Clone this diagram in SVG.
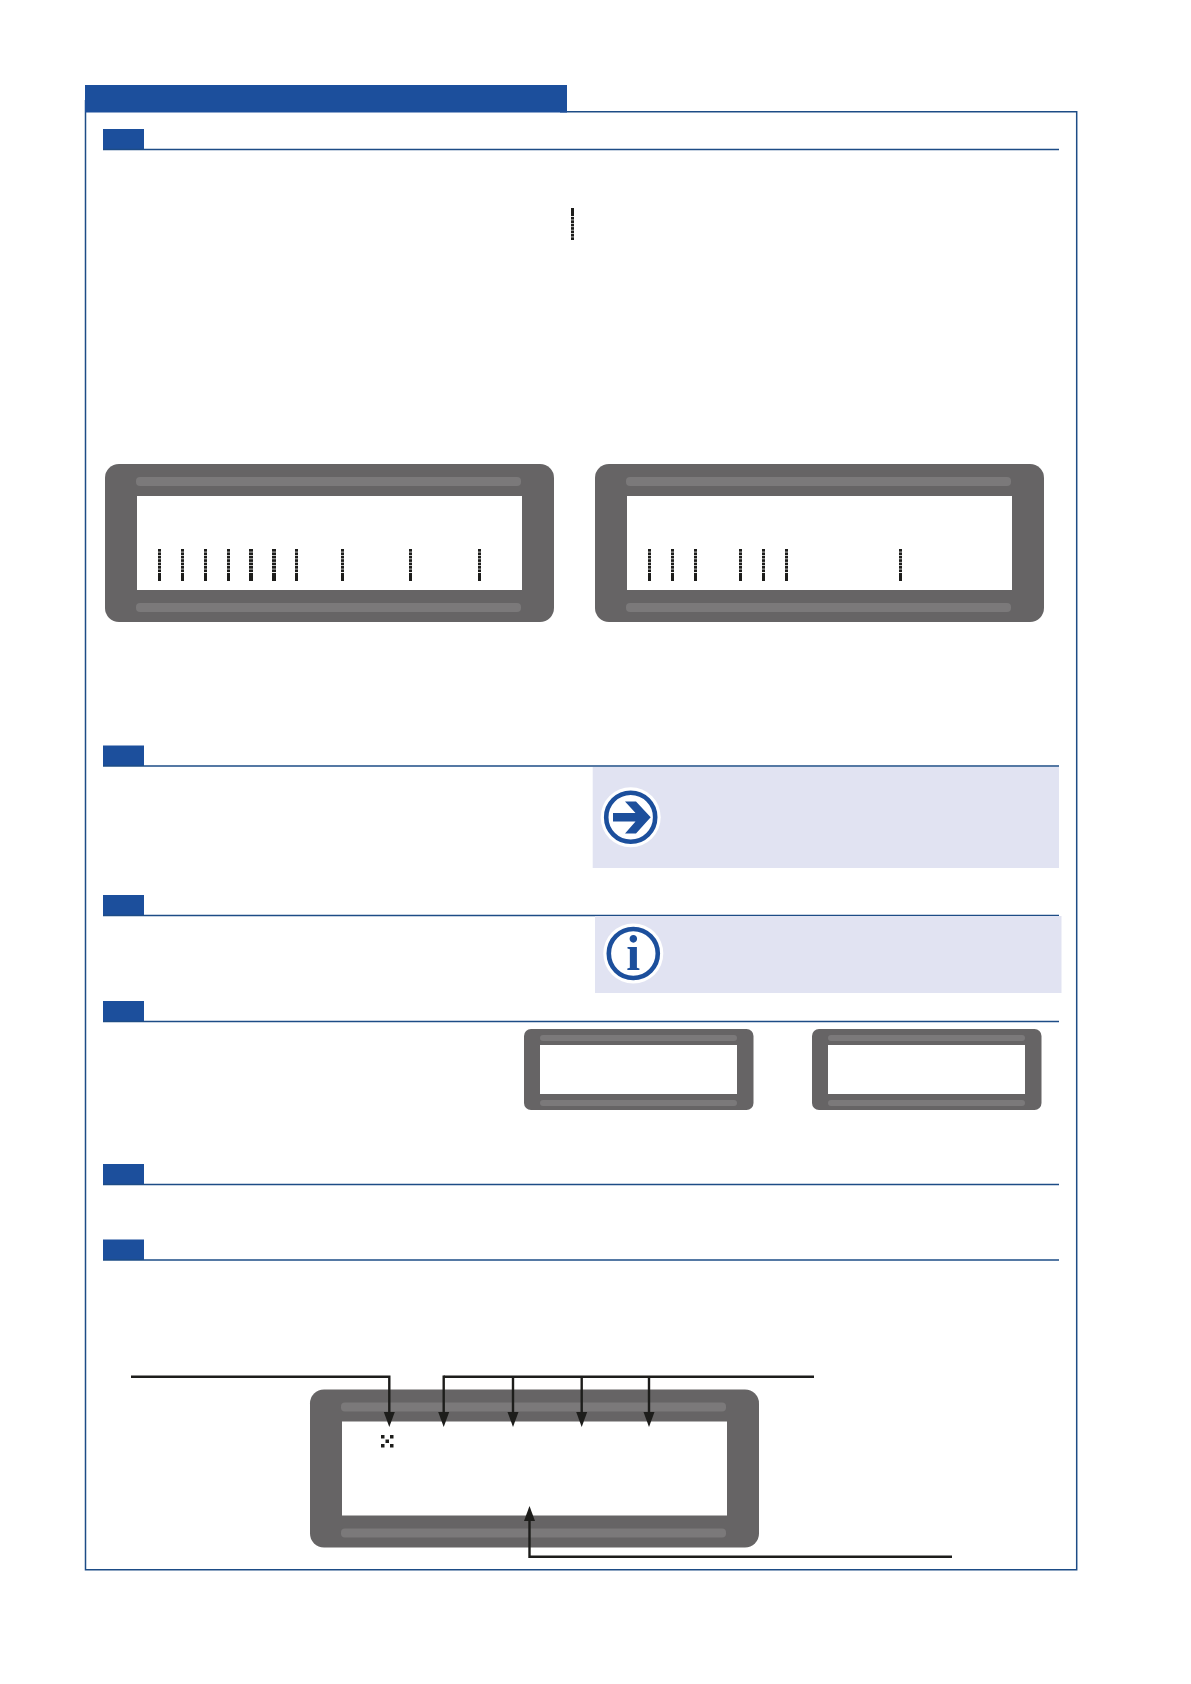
<svg xmlns="http://www.w3.org/2000/svg" width="1191" height="1684" viewBox="0 0 1191 1684">
<style>
.bg{fill:#fff}
.blue{fill:#1c4f9c}
.rule{stroke:#1d4c86;stroke-width:1.5;fill:none}
.case{fill:#666465}
.strip{fill:#7b797a}
.screen{fill:#fff}
.note{fill:#e1e3f2}
.halo{fill:#fff}
.ring{fill:none;stroke:#1c4f9c;stroke-width:4.6}
.ink{fill:#1d1d1b}
.lead{fill:none;stroke:#1d1d1b;stroke-width:2.4;marker-end:url(#tip)}
.plain{fill:none;stroke:#1d1d1b;stroke-width:2.4}
</style>
<defs>
<marker id="tip" markerUnits="userSpaceOnUse" markerWidth="15" markerHeight="12" refX="9" refY="6" orient="auto"><path d="M0 0.500L15 6L0 11.500Z" fill="#1d1d1b"/></marker>
<g id="bar" class="ink">
<rect x="-1.500" y="0" width="3" height="2.700"/><rect x="-1.500" y="3.400" width="3" height="2.700"/><rect x="-1.500" y="6.800" width="3" height="2.700"/><rect x="-1.500" y="10.200" width="3" height="2.700"/><rect x="-1.500" y="13.600" width="3" height="2.700"/><rect x="-1.500" y="17" width="3" height="2.700"/><rect x="-1.500" y="20.400" width="3" height="2.700"/><rect x="-1.500" y="24" width="3" height="8"/>
</g>
<g id="barw" class="ink">
<rect x="-2" y="0" width="4" height="2.700"/><rect x="-2" y="3.400" width="4" height="2.700"/><rect x="-2" y="6.800" width="4" height="2.700"/><rect x="-2" y="10.200" width="4" height="2.700"/><rect x="-2" y="13.600" width="4" height="2.700"/><rect x="-2" y="17" width="4" height="2.700"/><rect x="-2" y="20.400" width="4" height="2.700"/><rect x="-2" y="24" width="4" height="8"/>
</g>
<g id="lcd">
<rect class="case" x="0" y="0" width="449" height="158" rx="14"/>
<rect class="strip" x="31" y="13" width="385" height="9" rx="4"/>
<rect class="strip" x="31" y="139" width="385" height="9" rx="4"/>
<rect class="screen" x="32" y="32" width="385" height="94"/>
</g>
<g id="lcdsmall">
<rect class="case" x="0" y="0" width="229.500" height="81" rx="7"/>
<rect class="strip" x="16" y="6" width="197" height="6" rx="3"/>
<rect class="strip" x="16" y="71" width="197" height="6" rx="3"/>
<rect class="screen" x="16" y="16" width="197" height="49"/>
</g>
</defs>
<rect class="bg" width="1191" height="1684"/>
<g id="frame">
<path class="rule" d="M85.500 100V1569.700H1076.700V111.700H560"/>
<rect class="blue" x="85" y="85" width="482" height="27.500"/>
</g>
<g id="section-1"><rect class="blue" x="103" y="129" width="41" height="20.500"/><path class="rule" d="M103 149.500H1059"/></g>
<g id="section-2"><rect class="blue" x="103" y="745.500" width="41" height="20.500"/><path class="rule" d="M103 766H1059"/></g>
<g id="section-3"><rect class="blue" x="103" y="895" width="41" height="20.500"/><path class="rule" d="M103 915.500H1059"/></g>
<g id="section-4"><rect class="blue" x="103" y="1001" width="41" height="20.500"/><path class="rule" d="M103 1021.500H1059"/></g>
<g id="section-5"><rect class="blue" x="103" y="1164" width="41" height="20.500"/><path class="rule" d="M103 1184.500H1059"/></g>
<g id="section-6"><rect class="blue" x="103" y="1239.500" width="41" height="20.500"/><path class="rule" d="M103 1260H1059"/></g>
<g id="top-bar"><use href="#bar" transform="translate(572.500 240) scale(1 -1)"/></g>
<g id="display-a">
<use href="#lcd" x="105" y="464"/>
<use href="#bar" x="159.500" y="549"/><use href="#bar" x="182.500" y="549"/><use href="#bar" x="205.500" y="549"/><use href="#bar" x="228.500" y="549"/><use href="#barw" x="251" y="549"/><use href="#barw" x="274" y="549"/><use href="#bar" x="296.500" y="549"/><use href="#bar" x="342.500" y="549"/><use href="#bar" x="410.500" y="549"/><use href="#bar" x="479.500" y="549"/>
</g>
<g id="display-b">
<use href="#lcd" x="595" y="464"/>
<use href="#bar" x="649.500" y="549"/><use href="#bar" x="672.500" y="549"/><use href="#bar" x="695.500" y="549"/><use href="#bar" x="740.500" y="549"/><use href="#bar" x="763.500" y="549"/><use href="#bar" x="786.500" y="549"/><use href="#bar" x="900.500" y="549"/>
</g>
<g id="note-arrow">
<rect class="note" x="592.700" y="767" width="466.300" height="101"/>
<circle class="halo" cx="630.700" cy="817.300" r="30"/>
<circle class="ring" cx="630.700" cy="817.300" r="24.500"/>
<path class="blue" d="M625 801.500H636L650.700 817.300L636 833.500H625L635.500 821.500H613V813H635.500Z"/>
</g>
<g id="note-info">
<rect class="note" x="595" y="916" width="466.500" height="77"/>
<circle class="halo" cx="633.300" cy="953.500" r="30"/>
<circle class="ring" cx="633.300" cy="953.500" r="24.500"/>
<text x="633.300" y="970" text-anchor="middle" font-family="'Liberation Serif',serif" font-weight="700" font-size="50" fill="#1c4f9c">i</text>
</g>
<g id="display-c"><use href="#lcdsmall" x="524" y="1029"/></g>
<g id="display-d"><use href="#lcdsmall" x="812" y="1029"/></g>
<g id="display-e">
<use href="#lcd" x="310" y="1389.500"/>
<g class="ink"><rect x="381" y="1435" width="3.500" height="3.500"/><rect x="390" y="1435" width="3.500" height="3.500"/><rect x="385.500" y="1439.500" width="3.500" height="3.500"/><rect x="381" y="1444" width="3.500" height="3.500"/><rect x="390" y="1444" width="3.500" height="3.500"/></g>
</g>
<g id="connectors">
<path class="lead" d="M131 1376.700H389.300V1421"/>
<path class="plain" d="M814 1376.700H443.700"/>
<path class="lead" d="M443.700 1375.500V1421"/>
<path class="lead" d="M513 1376.700V1421"/>
<path class="lead" d="M581.700 1376.700V1421"/>
<path class="lead" d="M649 1376.700V1421"/>
<path class="lead" d="M952 1556.700H529.500V1512"/>
</g>
</svg>
